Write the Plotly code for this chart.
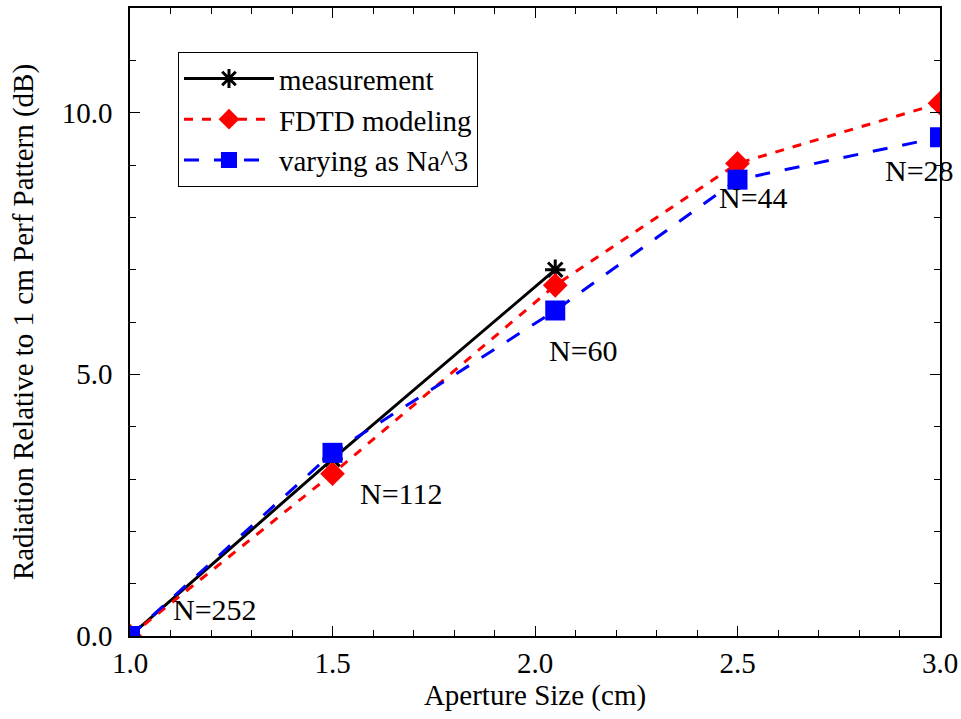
import plotly.graph_objects as go

meas_x = [1.0, 1.5, 2.05]
meas_y = [0.0, 3.38, 7.0]
fdtd_x = [1.0, 1.5, 2.05, 2.5, 3.0]
fdtd_y = [0.0, 3.1, 6.7, 9.03, 10.18]
na3_x = [1.0, 1.5, 2.05, 2.5, 3.0]
na3_y = [0.0, 3.5, 6.22, 8.72, 9.53]
lab_text = ["N=252", "N=112", "N=60", "N=44", "N=28"]
lab_x = [1.21, 1.67, 2.12, 2.54, 2.95]
lab_y = [0.5, 2.73, 5.46, 8.38, 8.9]

FONT = "Liberation Serif, Times New Roman, serif"

fig = go.Figure()
fig.add_trace(go.Scatter(x=meas_x, y=meas_y, mode="lines+markers", name="measurement",
                         line=dict(color="black", width=3),
                         marker=dict(symbol="asterisk-open", size=17, color="black",
                                     line=dict(color="black", width=3))))
fig.add_trace(go.Scatter(x=fdtd_x, y=fdtd_y, mode="lines+markers", name="FDTD modeling",
                         line=dict(color="red", width=3, dash="dash"),
                         marker=dict(symbol="diamond", size=19, color="red")))
fig.add_trace(go.Scatter(x=na3_x, y=na3_y, mode="lines+markers", name="varying as Na^3",
                         line=dict(color="blue", width=3, dash="longdash"),
                         marker=dict(symbol="square", size=20, color="blue")))

for t, x, y in zip(lab_text, lab_x, lab_y):
    fig.add_annotation(x=x, y=y, text=t, showarrow=False,
                       font=dict(family=FONT, size=30, color="black"))

axis_common = dict(showline=True, linecolor="black", linewidth=1.5, mirror="allticks",
                   ticks="inside", ticklen=10, tickwidth=1.2, tickcolor="black",
                   showgrid=False, zeroline=False, automargin=False,
                   tickfont=dict(family=FONT, size=29, color="black"))

fig.update_layout(
    width=961, height=719,
    margin=dict(l=130, r=21, t=8, b=83),
    plot_bgcolor="white", paper_bgcolor="white",
    xaxis=dict(range=[1.0, 3.0], tickvals=[1.0, 1.5, 2.0, 2.5, 3.0],
               ticktext=["1.0", "1.5", "2.0", "2.5", "3.0"],
               minor=dict(dtick=0.1, ticks="inside", ticklen=6, tickcolor="black", tickwidth=1),
               title=dict(text="Aperture Size (cm)", font=dict(family=FONT, size=29, color="black"),
                          standoff=0),
               **axis_common),
    yaxis=dict(range=[0, 12], tickvals=[0, 5, 10], ticktext=["0.0", "5.0", "10.0"],
               ticklabelstandoff=10,
               minor=dict(dtick=1, ticks="inside", ticklen=6, tickcolor="black", tickwidth=1),
               title=dict(text="Radiation Relative to 1 cm Perf Pattern (dB)",
                          font=dict(family=FONT, size=29, color="black"), standoff=20),
               **axis_common),
    showlegend=True,
    legend=dict(x=0.059, y=0.93, xanchor="left", yanchor="top",
                bgcolor="white", bordercolor="black", borderwidth=1.2,
                font=dict(family=FONT, size=29, color="black"),
                itemwidth=90, tracegroupgap=0),
)

fig.write_html("out.html", config={"displayModeBar": False},
               post_script="document.body.style.margin='0';")
